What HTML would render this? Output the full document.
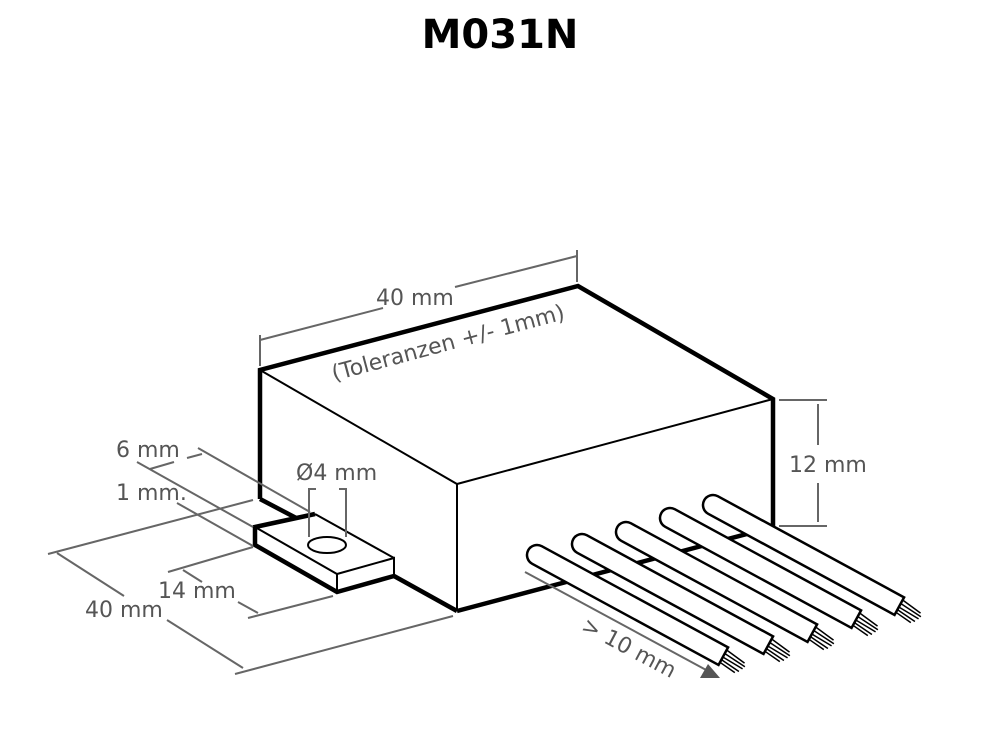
<!DOCTYPE html>
<html><head><meta charset="utf-8"><style>
html,body{margin:0;padding:0;background:#fff;}
svg{display:block;}
.t{font-family:"DejaVu Sans","Liberation Sans",sans-serif;fill:#555;font-size:22px;}
.d{stroke:#666;stroke-width:2;fill:none;}
</style></head><body>
<svg width="1000" height="750" viewBox="0 0 1000 750" xmlns="http://www.w3.org/2000/svg">
<text x="500" y="48" text-anchor="middle" font-family="DejaVu Sans, Liberation Sans, sans-serif" font-weight="bold" font-size="40" fill="#000">M031N</text>

<!-- box -->
<polygon points="260,370 578,286 773,399 773,527 457,611 260,499" fill="#fff"/>
<polyline points="260,499 260,370 578,286 773,399 773,527" fill="none" stroke="#000" stroke-width="4.5" stroke-linejoin="miter"/>
<line x1="457" y1="611" x2="773" y2="527" stroke="#000" stroke-width="4.5"/>
<polyline points="260,370 457,484 773,399" fill="none" stroke="#000" stroke-width="2"/>
<line x1="457" y1="484" x2="457" y2="611" stroke="#000" stroke-width="2"/>
<polyline points="260,499 300,520" fill="none" stroke="#000" stroke-width="4.5"/>
<line x1="394" y1="576" x2="457" y2="611" stroke="#000" stroke-width="4.5"/>

<!-- tab -->
<polygon points="255,527 315,514 394,558 394,576 337,592 255,545" fill="#fff"/>
<polyline points="315,514 255,527 255,545 337,592 394,576" fill="none" stroke="#000" stroke-width="4.5"/>
<polyline points="255,527 337,574 394,558 394,576" fill="none" stroke="#000" stroke-width="2"/>
<line x1="315" y1="514" x2="394" y2="558" stroke="#000" stroke-width="2"/>
<line x1="337" y1="574" x2="337" y2="592" stroke="#000" stroke-width="2"/>
<ellipse cx="327" cy="545" rx="19" ry="8" fill="#fff" stroke="#000" stroke-width="2"/>

<!-- top dims -->
<line class="d" x1="260" y1="335" x2="260" y2="366"/>
<line class="d" x1="577" y1="250" x2="577" y2="282"/>
<line class="d" x1="260" y1="340" x2="383" y2="308"/>
<line class="d" x1="455" y1="287" x2="577" y2="256"/>
<text class="t" x="376" y="305">40 mm</text>
<text class="t" x="0" y="0" transform="translate(334,381) rotate(-15)">(Toleranzen +/- 1mm)</text>

<!-- 12 mm -->
<line class="d" x1="779" y1="400" x2="827" y2="400"/>
<line class="d" x1="779" y1="526" x2="827" y2="526"/>
<line class="d" x1="818" y1="404" x2="818" y2="445"/>
<line class="d" x1="818" y1="483" x2="818" y2="522"/>
<text class="t" x="789" y="472">12 mm</text>

<!-- left dims -->
<line class="d" x1="198" y1="448" x2="310" y2="512"/>
<line class="d" x1="137" y1="462" x2="253" y2="527"/>
<line class="d" x1="150" y1="469" x2="174" y2="462"/>
<line class="d" x1="187" y1="458" x2="202" y2="454"/>
<text class="t" x="116" y="457">6 mm</text>
<line class="d" x1="177" y1="503" x2="253" y2="546"/>
<text class="t" x="116" y="500">1 mm.</text>
<line class="d" x1="48" y1="554" x2="253" y2="500"/>
<line class="d" x1="57" y1="553" x2="124" y2="596"/>
<line class="d" x1="167" y1="620" x2="243" y2="668"/>
<line class="d" x1="235" y1="674" x2="453" y2="616"/>
<text class="t" x="85" y="617">40 mm</text>
<line class="d" x1="168" y1="572" x2="253" y2="547"/>
<line class="d" x1="248" y1="618" x2="333" y2="596"/>
<line class="d" x1="183" y1="570" x2="202" y2="582"/>
<line class="d" x1="238" y1="602" x2="258" y2="613"/>
<text class="t" x="158" y="598">14 mm</text>
<polyline class="d" points="316,489 309,489 309,537"/>
<polyline class="d" points="339,489 346,489 346,537"/>
<text class="t" x="296" y="480">Ø4 mm</text>

<!-- wires (back to front) -->
<g stroke="#000" stroke-width="2.5" fill="#fff">
<g transform="translate(713,505) rotate(28.5)"><path d="M0,-10 H212 V10 H0 A10,10 0 0 1 0,-10 Z"/><g stroke-width="1.5"><line x1="212" y1="-7" x2="234" y2="-4"/><line x1="212" y1="-3" x2="236" y2="-1"/><line x1="212" y1="1" x2="235" y2="2"/><line x1="212" y1="4" x2="233" y2="6"/><line x1="212" y1="7" x2="230" y2="9"/></g></g>
<g transform="translate(670,518) rotate(28.5)"><path d="M0,-10 H212 V10 H0 A10,10 0 0 1 0,-10 Z"/><g stroke-width="1.5"><line x1="212" y1="-7" x2="234" y2="-4"/><line x1="212" y1="-3" x2="236" y2="-1"/><line x1="212" y1="1" x2="235" y2="2"/><line x1="212" y1="4" x2="233" y2="6"/><line x1="212" y1="7" x2="230" y2="9"/></g></g>
<g transform="translate(626,532) rotate(28.5)"><path d="M0,-10 H212 V10 H0 A10,10 0 0 1 0,-10 Z"/><g stroke-width="1.5"><line x1="212" y1="-7" x2="234" y2="-4"/><line x1="212" y1="-3" x2="236" y2="-1"/><line x1="212" y1="1" x2="235" y2="2"/><line x1="212" y1="4" x2="233" y2="6"/><line x1="212" y1="7" x2="230" y2="9"/></g></g>
<g transform="translate(582,544) rotate(28.5)"><path d="M0,-10 H212 V10 H0 A10,10 0 0 1 0,-10 Z"/><g stroke-width="1.5"><line x1="212" y1="-7" x2="234" y2="-4"/><line x1="212" y1="-3" x2="236" y2="-1"/><line x1="212" y1="1" x2="235" y2="2"/><line x1="212" y1="4" x2="233" y2="6"/><line x1="212" y1="7" x2="230" y2="9"/></g></g>
<g transform="translate(537,555) rotate(28.5)"><path d="M0,-10 H212 V10 H0 A10,10 0 0 1 0,-10 Z"/><g stroke-width="1.5"><line x1="212" y1="-7" x2="234" y2="-4"/><line x1="212" y1="-3" x2="236" y2="-1"/><line x1="212" y1="1" x2="235" y2="2"/><line x1="212" y1="4" x2="233" y2="6"/><line x1="212" y1="7" x2="230" y2="9"/></g></g>
</g>

<!-- >10 mm -->
<line class="d" x1="525" y1="572" x2="708" y2="671"/>
<polygon points="720,678 700,678 708,664" fill="#555"/>
<text class="t" x="0" y="0" transform="translate(580,630) rotate(28)">&gt; 10 mm</text>
</svg>
</body></html>
